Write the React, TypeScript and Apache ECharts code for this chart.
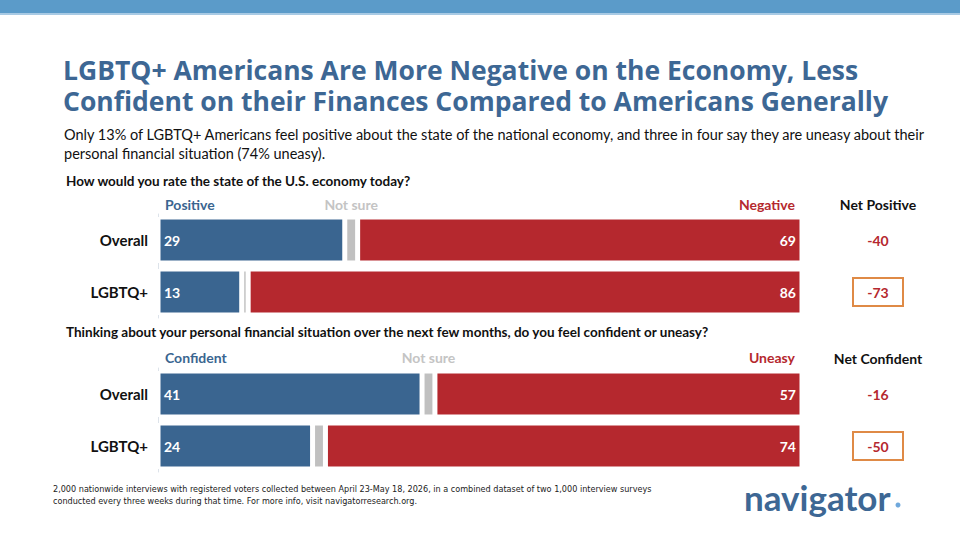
import React, { useEffect, useRef } from "react";
import * as echarts from "echarts";

const rowLabels = ["Overall", "LGBTQ+"];
const econPositive = [29, 13];
const econNotSure = [2, 1];
const econNegative = [69, 86];
const finConfident = [41, 24];
const finNotSure = [2, 2];
const finUneasy = [57, 74];

const BLUE = "#3a6590";
const RED = "#b5282e";
const GRAY = "#c0c0c0";
const TITLE = "#3d6794";
const ORANGE = "#df8a46";
const FONT = "Lato, 'Noto Sans', sans-serif";
const TFONT = "'Open Sans', Lato, sans-serif";

const GRID_LEFT = 158;
const GRID_W = 644;
const G1_TOP = 214;
const G2_TOP = 368;
const G_H = 104;

export default function App() {
  const ref = useRef<HTMLDivElement>(null);
  useEffect(() => {
    document.body.style.margin = "0";
    const chart = echarts.init(ref.current!, null, { renderer: "svg" });

    const mkSeries = (
      name: string,
      data: number[],
      color: string,
      idx: number,
      label: any
    ) => ({
      type: "bar",
      name,
      stack: "s" + idx,
      xAxisIndex: idx,
      yAxisIndex: idx,
      data,
      barWidth: 46,
      itemStyle: { color, borderColor: "#fff", borderWidth: 2.5 },
      label,
    });
    const leftLabel = {
      show: true,
      position: "insideLeft",
      distance: 6,
      color: "#fff",
      fontFamily: FONT,
      fontWeight: "bold",
      fontSize: 14,
    };
    const rightLabel = { ...leftLabel, position: "insideRight" };

    const px = (v: number) => GRID_LEFT + (v / 100) * GRID_W;
    const rowCenter = (top: number, i: number) => top + G_H / 4 + (i * G_H) / 2;

    const headerText = (x: number, y: number, text: string, fill: string, align = "left") => ({
      type: "text",
      x,
      y,
      style: {
        text,
        fill,
        font: `bold 14px ${FONT}`,
        textAlign: align,
        textVerticalAlign: "middle",
      },
    });

    const netGraphics = (pos: number[], neg: number[], top: number) => {
      const out: any[] = [];
      pos.forEach((p, i) => {
        const y = rowCenter(top, i);
        if (i === 1) {
          out.push({
            type: "rect",
            shape: { x: 853, y: y - 14, width: 50, height: 28 },
            style: { fill: "none", stroke: ORANGE, lineWidth: 2 },
          });
        }
        out.push({
          type: "text",
          x: 878,
          y,
          style: {
            text: String(p - neg[i]),
            fill: RED,
            font: `bold 14px ${FONT}`,
            textAlign: "center",
            textVerticalAlign: "middle",
          },
        });
      });
      return out;
    };

    const option: any = {
      animation: false,
      grid: [
        { left: GRID_LEFT, width: GRID_W, top: G1_TOP, height: G_H },
        { left: GRID_LEFT, width: GRID_W, top: G2_TOP, height: G_H },
      ],
      xAxis: [0, 1].map((i) => ({
        type: "value",
        gridIndex: i,
        min: 0,
        max: 100,
        show: false,
      })),
      yAxis: [0, 1].map((i) => ({
        type: "category",
        gridIndex: i,
        data: rowLabels,
        inverse: true,
        axisTick: { show: false },
        axisLine: { show: true, lineStyle: { color: "#dde3ea", width: 1 } },
        axisLabel: {
          color: "#111",
          fontFamily: FONT,
          fontSize: 15,
          fontWeight: "bold",
          margin: 10,
        },
      })),
      series: [
        mkSeries("Positive", econPositive, BLUE, 0, leftLabel),
        mkSeries("Not sure", econNotSure, GRAY, 0, { show: false }),
        mkSeries("Negative", econNegative, RED, 0, rightLabel),
        mkSeries("Confident", finConfident, BLUE, 1, leftLabel),
        mkSeries("Not sure", finNotSure, GRAY, 1, { show: false }),
        mkSeries("Uneasy", finUneasy, RED, 1, rightLabel),
      ],
      graphic: [
        { type: "rect", shape: { x: 0, y: 0, width: 960, height: 13 }, style: { fill: "#5b9bc9" } },
        { type: "rect", shape: { x: 0, y: 13, width: 960, height: 2 }, style: { fill: "#a8cae4" } },
        {
          type: "text",
          x: 63,
          y: 85.5,
          style: {
            text:
              "LGBTQ+ Americans Are More Negative on the Economy, Less\nConfident on their Finances Compared to Americans Generally",
            fill: TITLE,
            font: `bold 26.5px ${TFONT}`,
            lineHeight: 31,
            textVerticalAlign: "middle",
          },
        },
        {
          type: "text",
          x: 64,
          y: 143.5,
          style: {
            text:
              "Only 13% of LGBTQ+ Americans feel positive about the state of the national economy, and three in four say they are uneasy about their\npersonal financial situation (74% uneasy).",
            fill: "#111",
            font: `14.5px ${FONT}`,
            lineHeight: 19,
            textVerticalAlign: "middle",
          },
        },
        {
          type: "text",
          x: 66,
          y: 181,
          style: {
            text: "How would you rate the state of the U.S. economy today?",
            fill: "#111",
            font: `bold 13.5px ${FONT}`,
            textVerticalAlign: "middle",
          },
        },
        {
          type: "text",
          x: 66,
          y: 332,
          style: {
            text:
              "Thinking about your personal financial situation over the next few months, do you feel confident or uneasy?",
            fill: "#111",
            font: `bold 13.5px ${FONT}`,
            textVerticalAlign: "middle",
          },
        },
        headerText(165, 204, "Positive", BLUE),
        headerText(px(econPositive[0] + econNotSure[0] / 2), 204, "Not sure", "#c4c4c4", "center"),
        headerText(795, 204, "Negative", RED, "right"),
        headerText(878, 204, "Net Positive", "#111", "center"),
        headerText(165, 357, "Confident", BLUE),
        headerText(px(finConfident[0] + finNotSure[0] / 2), 357, "Not sure", "#c4c4c4", "center"),
        headerText(795, 357, "Uneasy", RED, "right"),
        headerText(878, 358, "Net Confident", "#111", "center"),
        ...netGraphics(econPositive, econNegative, G1_TOP),
        ...netGraphics(finConfident, finUneasy, G2_TOP),
        {
          type: "text",
          x: 53,
          y: 495,
          style: {
            text:
              "2,000 nationwide interviews with registered voters collected between April 23-May 18, 2026, in a combined dataset of two 1,000 interview surveys\nconducted every three weeks during that time. For more info, visit navigatorresearch.org.",
            fill: "#222",
            font: `9px 'Liberation Sans Narrow', 'DejaVu Sans Condensed', sans-serif`,
            lineHeight: 12,
            textVerticalAlign: "middle",
          },
        },
        {
          type: "text",
          x: 744,
          y: 497,
          style: {
            text: "navigator",
            fill: TITLE,
            font: `bold 35px ${FONT}`,
            textVerticalAlign: "middle",
          },
        },
        { type: "circle", shape: { cx: 898, cy: 505, r: 2.5 }, style: { fill: "#6fa8dc" } },
      ],
    };
    chart.setOption(option);
    return () => chart.dispose();
  }, []);
  return (
    <div
      ref={ref}
      style={{ position: "fixed", left: 0, top: 0, width: 960, height: 540, background: "#fff" }}
    />
  );
}
